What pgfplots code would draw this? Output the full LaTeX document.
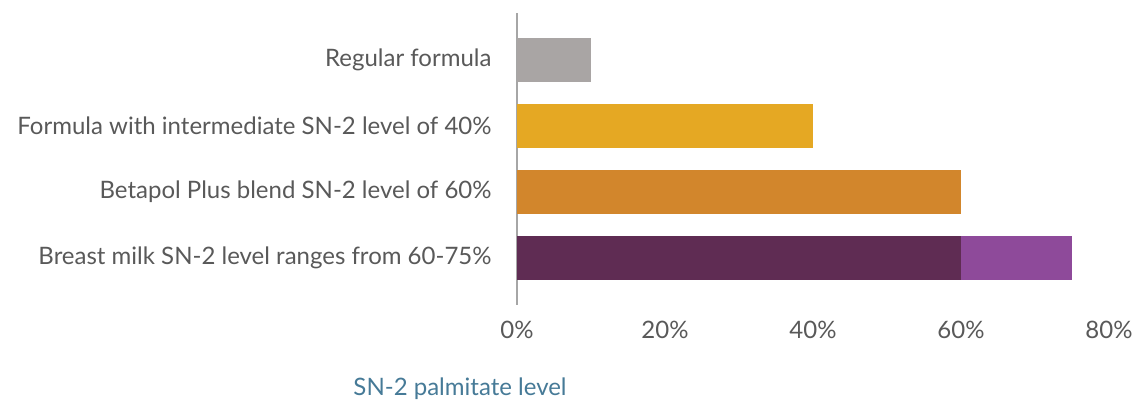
\documentclass[border=0pt]{standalone}
\usepackage{fontspec}
\setmainfont{Lato}
\usepackage{pgfplots}
\pgfplotsset{compat=1.18}

\definecolor{regular}{HTML}{A9A5A4}
\definecolor{inter}{HTML}{E5A823}
\definecolor{betapol}{HTML}{D2862C}
\definecolor{milkdark}{HTML}{5F2C53}
\definecolor{milklight}{HTML}{8E4A9A}
\definecolor{labelgray}{HTML}{595959}
\definecolor{axisgray}{HTML}{A6A6A6}
\definecolor{titleblue}{HTML}{467A97}

\begin{document}
\begin{tikzpicture}
\useasboundingbox (0,0) rectangle (1139bp,403bp);
\begin{axis}[
    at={(517bp,98bp)}, anchor=south west,
    scale only axis, width=592bp, height=292bp,
    xbar, bar width=44bp, bar shift=0pt,
    xmin=0, xmax=80, ymin=-0.71, ymax=3.71,
    axis lines*=left,
    x axis line style={draw=none},
    y axis line style={draw=axisgray, line width=2bp},
    xtick={0,20,40,60,80},
    xticklabel={\pgfmathprintnumber{\tick}\%},
    ytick={0,1,2,3},
    yticklabels={Breast milk SN-2 level ranges from 60-75\%,
                 Betapol Plus blend SN-2 level of 60\%,
                 Formula with intermediate SN-2 level of 40\%,
                 Regular formula},
    major tick length=0pt,
    tick label style={font=\fontsize{24bp}{28bp}\selectfont, text=labelgray},
    xticklabel style={yshift=-13bp},
    yticklabel style={xshift=-22bp},
    /pgf/number format/assume math mode=true,
    clip=false,
]
% breast milk range: upper end drawn first, 60% part on top
\addplot[draw=none, fill=milklight] coordinates {(75,0)};
\addplot[draw=none, fill=milkdark] coordinates {(60,0)};
\addplot[draw=none, fill=betapol] coordinates {(60,1)};
\addplot[draw=none, fill=inter] coordinates {(40,2)};
\addplot[draw=none, fill=regular] coordinates {(10,3)};
\end{axis}
\node[font=\fontsize{24bp}{28bp}\selectfont, text=titleblue] at (460bp,14bp) {SN-2 palmitate level};
\end{tikzpicture}
\end{document}
